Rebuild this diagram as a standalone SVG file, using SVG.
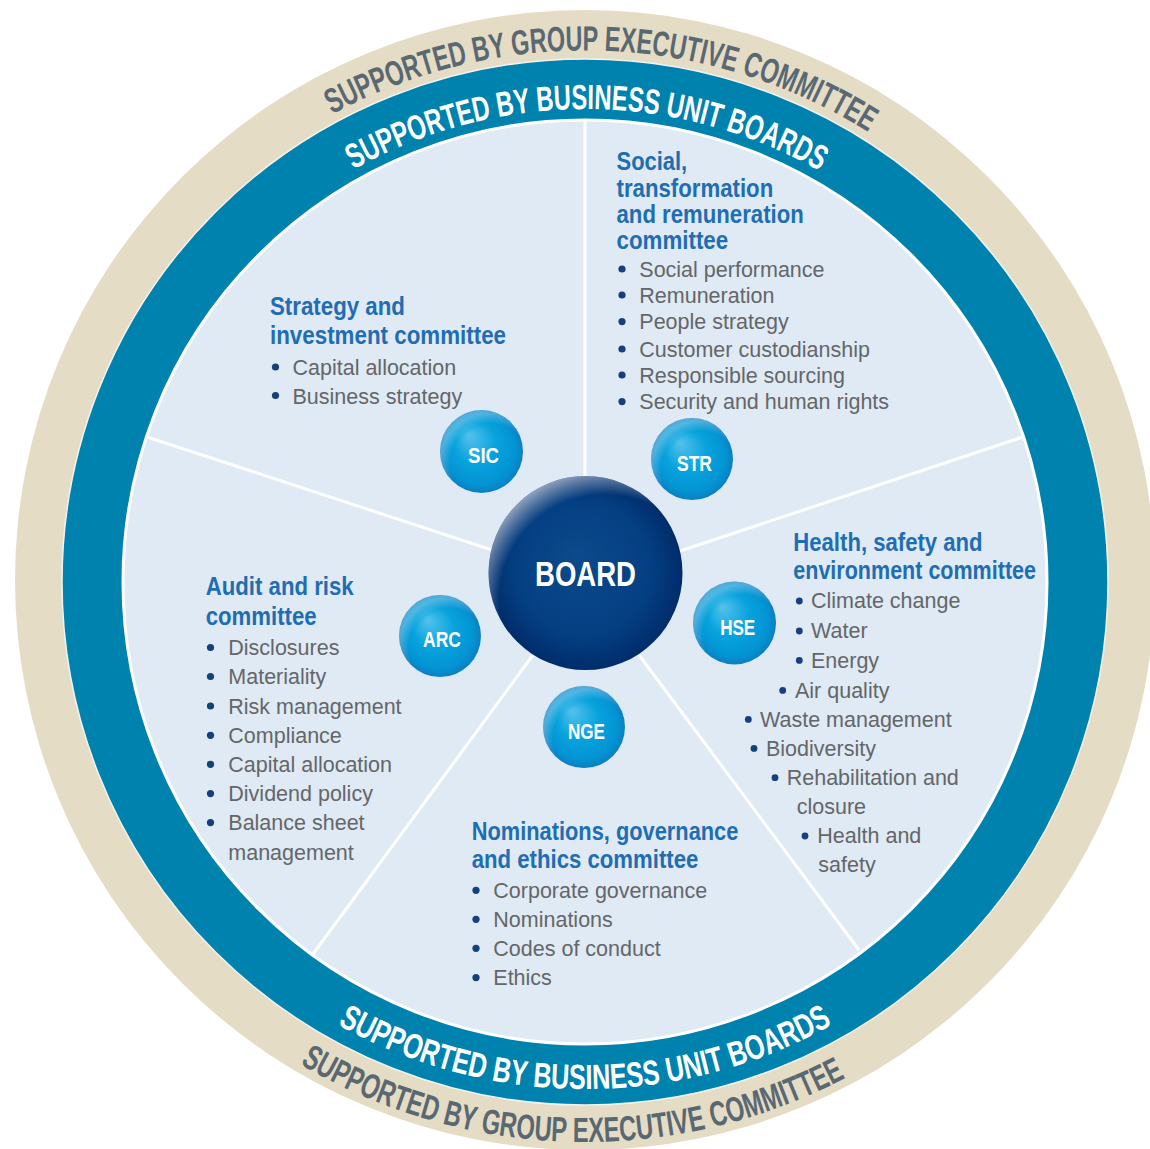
<svg xmlns="http://www.w3.org/2000/svg" width="1150" height="1149" viewBox="0 0 1150 1149">
<style>
.cond{font-family:"Liberation Sans Narrow","Liberation Sans",Arial,sans-serif;font-weight:700}
.arcout{font-size:35px;fill:#5a6872}
.arcin{font-size:35px;fill:#ffffff}
.head{font-size:26px;fill:#1f6db3}
.item{font-family:"Liberation Sans",Arial,sans-serif;font-size:21.5px;fill:#646669}
.dot{fill:#173f7b}
.lbl{font-size:22px;fill:#ffffff;text-anchor:middle}
.blbl{font-size:35px;fill:#ffffff;text-anchor:middle}
.divider{stroke:#ffffff;stroke-width:3;fill:none}
.bub{fill:url(#bubG)}
.bubhi{fill:url(#bubHi)}
</style>
<defs>
<path id="pTopOut" d="M124.3,315.5 A533,533 0 0 1 1045.7,315.5"/>
<path id="pBotOut" d="M100,862 A560,560 0 0 0 1070,862"/>
<path id="pTopIn" d="M175.4,345.5 A473,473 0 0 1 994.6,345.5"/>
<path id="pBotIn" d="M145.9,835.5 A507,507 0 0 0 1024.1,835.5"/>
<radialGradient id="bubG" cx="0.5" cy="0.5" r="0.5" fx="0.35" fy="0.3">
<stop offset="0" stop-color="#55c2ec"/>
<stop offset="0.5" stop-color="#07a3dd"/>
<stop offset="0.85" stop-color="#0394d3"/>
<stop offset="1" stop-color="#0b7fc2"/>
</radialGradient>
<radialGradient id="bubHi" cx="0.6" cy="0.64" r="0.6">
<stop offset="0.8" stop-color="#ffffff" stop-opacity="0"/>
<stop offset="1" stop-color="#ffffff" stop-opacity="0.3"/>
</radialGradient>
<radialGradient id="boardG" cx="0.5" cy="0.5" r="0.5" fx="0.45" fy="0.42">
<stop offset="0" stop-color="#0b4a8c"/>
<stop offset="0.7" stop-color="#043f82"/>
<stop offset="1" stop-color="#002c6b"/>
</radialGradient>
<radialGradient id="boardHi" cx="0.6" cy="0.64" r="0.68">
<stop offset="0.8" stop-color="#ffffff" stop-opacity="0"/>
<stop offset="1" stop-color="#ffffff" stop-opacity="0.6"/>
</radialGradient>
</defs>

<g id="rings">
<circle cx="585" cy="580" r="570" fill="#e4dcc5"/>
<circle cx="585" cy="582" r="523" fill="#0082ae" stroke="#f2f2ee" stroke-width="1.5"/>
<circle cx="585" cy="582" r="462" fill="#dfeaf4" stroke="#ffffff" stroke-width="3"/>
</g>

<g id="ring-labels" class="cond">
<text class="arcout"><textPath href="#pTopOut" startOffset="574" text-anchor="middle" textLength="562" lengthAdjust="spacingAndGlyphs">SUPPORTED BY GROUP EXECUTIVE COMMITTEE</textPath></text>
<text class="arcout"><textPath href="#pBotOut" startOffset="572.5" text-anchor="middle" textLength="570" lengthAdjust="spacingAndGlyphs">SUPPORTED BY GROUP EXECUTIVE COMMITTEE</textPath></text>
<text class="arcin"><textPath href="#pTopIn" startOffset="497" text-anchor="middle" textLength="487" lengthAdjust="spacingAndGlyphs">SUPPORTED BY BUSINESS UNIT BOARDS</textPath></text>
<text class="arcin"><textPath href="#pBotIn" startOffset="531" text-anchor="middle" textLength="517" lengthAdjust="spacingAndGlyphs">SUPPORTED BY BUSINESS UNIT BOARDS</textPath></text>
</g>

<g id="connectors">
<line class="divider" x1="585" y1="121" x2="585" y2="480"/>
<line class="divider" x1="1023" y1="437" x2="680" y2="551"/>
<line class="divider" x1="147" y1="437" x2="492" y2="550"/>
<line class="divider" x1="313" y1="954" x2="533" y2="655"/>
<line class="divider" x1="859" y1="950" x2="639" y2="655"/>
</g>

<g id="board">
<circle cx="585.5" cy="573" r="97" fill="url(#boardG)"/>
<circle cx="585.5" cy="573" r="97" fill="url(#boardHi)"/>
<text class="cond blbl" x="585.5" y="586" textLength="101" lengthAdjust="spacingAndGlyphs">BOARD</text>
</g>

<g id="sic">
<circle class="bub" cx="481.5" cy="451.5" r="41.5"/>
<circle class="bubhi" cx="481.5" cy="451.5" r="41.5"/>
<text class="cond lbl" x="483.5" y="463.3" textLength="31" lengthAdjust="spacingAndGlyphs">SIC</text>
<text class="cond head" x="270" y="315" textLength="135" lengthAdjust="spacingAndGlyphs">Strategy and</text>
<text class="cond head" x="270" y="343.5" textLength="236" lengthAdjust="spacingAndGlyphs">investment committee</text>
<circle class="dot" cx="275.5" cy="367" r="3.6"/>
<text class="item" x="292.5" y="375">Capital allocation</text>
<circle class="dot" cx="275.5" cy="395.5" r="3.6"/>
<text class="item" x="292.5" y="403.5">Business strategy</text>
</g>

<g id="str">
<circle class="bub" cx="692" cy="459" r="41"/>
<circle class="bubhi" cx="692" cy="459" r="41"/>
<text class="cond lbl" x="694.5" y="470.7" textLength="35" lengthAdjust="spacingAndGlyphs">STR</text>
<text class="cond head" x="616.5" y="170" textLength="70.7" lengthAdjust="spacingAndGlyphs">Social,</text>
<text class="cond head" x="616.5" y="196.5" textLength="156.7" lengthAdjust="spacingAndGlyphs">transformation</text>
<text class="cond head" x="616.5" y="222.7" textLength="187.3" lengthAdjust="spacingAndGlyphs">and remuneration</text>
<text class="cond head" x="616.5" y="249.3" textLength="111.7" lengthAdjust="spacingAndGlyphs">committee</text>
<circle class="dot" cx="622" cy="269" r="3.6"/>
<text class="item" x="639.3" y="276.7">Social performance</text>
<circle class="dot" cx="622" cy="295" r="3.6"/>
<text class="item" x="639.3" y="302.7">Remuneration</text>
<circle class="dot" cx="622" cy="321.6" r="3.6"/>
<text class="item" x="639.3" y="329.3">People strategy</text>
<circle class="dot" cx="622" cy="349" r="3.6"/>
<text class="item" x="639.3" y="356.7">Customer custodianship</text>
<circle class="dot" cx="622" cy="375" r="3.6"/>
<text class="item" x="639.3" y="382.7">Responsible sourcing</text>
<circle class="dot" cx="622" cy="401.6" r="3.6"/>
<text class="item" x="639.3" y="409.3">Security and human rights</text>
</g>

<g id="hse">
<circle class="bub" cx="734.5" cy="623" r="41.5"/>
<circle class="bubhi" cx="734.5" cy="623" r="41.5"/>
<text class="cond lbl" x="737.7" y="635" textLength="35" lengthAdjust="spacingAndGlyphs">HSE</text>
<text class="cond head" x="793.3" y="551" textLength="189.3" lengthAdjust="spacingAndGlyphs">Health, safety and</text>
<text class="cond head" x="793.3" y="579" textLength="242.7" lengthAdjust="spacingAndGlyphs">environment committee</text>
<circle class="dot" cx="799.3" cy="601" r="3.4"/>
<text class="item" x="811" y="608.3">Climate change</text>
<circle class="dot" cx="799.3" cy="631" r="3.4"/>
<text class="item" x="811" y="638.3">Water</text>
<circle class="dot" cx="799.3" cy="660.4" r="3.4"/>
<text class="item" x="811" y="667.7">Energy</text>
<circle class="dot" cx="782.7" cy="690.4" r="3.4"/>
<text class="item" x="795" y="697.7">Air quality</text>
<circle class="dot" cx="748.3" cy="719.4" r="3.4"/>
<text class="item" x="760" y="726.7">Waste management</text>
<circle class="dot" cx="754" cy="748.4" r="3.4"/>
<text class="item" x="766" y="755.7">Biodiversity</text>
<circle class="dot" cx="775" cy="777.7" r="3.4"/>
<text class="item" x="786.7" y="785">Rehabilitation and</text>
<text class="item" x="796.7" y="814.3">closure</text>
<circle class="dot" cx="805" cy="836" r="3.4"/>
<text class="item" x="817.3" y="843.3">Health and</text>
<text class="item" x="818.3" y="871.7">safety</text>
</g>

<g id="arc">
<circle class="bub" cx="440" cy="636" r="41"/>
<circle class="bubhi" cx="440" cy="636" r="41"/>
<text class="cond lbl" x="442" y="646.7" textLength="38" lengthAdjust="spacingAndGlyphs">ARC</text>
<text class="cond head" x="205.7" y="595.3" textLength="148" lengthAdjust="spacingAndGlyphs">Audit and risk</text>
<text class="cond head" x="205.7" y="625.3" textLength="111" lengthAdjust="spacingAndGlyphs">committee</text>
<circle class="dot" cx="210.5" cy="647.5" r="3.6"/>
<text class="item" x="228.3" y="655.3">Disclosures</text>
<circle class="dot" cx="210.5" cy="676.5" r="3.6"/>
<text class="item" x="228.3" y="684.3">Materiality</text>
<circle class="dot" cx="210.5" cy="706" r="3.6"/>
<text class="item" x="228.3" y="713.7">Risk management</text>
<circle class="dot" cx="210.5" cy="735.3" r="3.6"/>
<text class="item" x="228.3" y="743">Compliance</text>
<circle class="dot" cx="210.5" cy="764.3" r="3.6"/>
<text class="item" x="228.3" y="772">Capital allocation</text>
<circle class="dot" cx="210.5" cy="793.6" r="3.6"/>
<text class="item" x="228.3" y="801.3">Dividend policy</text>
<circle class="dot" cx="210.5" cy="822.6" r="3.6"/>
<text class="item" x="228.3" y="830.3">Balance sheet</text>
<text class="item" x="228.3" y="859.7">management</text>
</g>

<g id="nge">
<circle class="bub" cx="584" cy="727" r="41"/>
<circle class="bubhi" cx="584" cy="727" r="41"/>
<text class="cond lbl" x="586.5" y="739" textLength="37" lengthAdjust="spacingAndGlyphs">NGE</text>
<text class="cond head" x="471.7" y="840.3" textLength="266.7" lengthAdjust="spacingAndGlyphs">Nominations, governance</text>
<text class="cond head" x="471.7" y="868" textLength="226.7" lengthAdjust="spacingAndGlyphs">and ethics committee</text>
<circle class="dot" cx="476" cy="890.3" r="3.6"/>
<text class="item" x="493.3" y="898">Corporate governance</text>
<circle class="dot" cx="476" cy="919.3" r="3.6"/>
<text class="item" x="493.3" y="927">Nominations</text>
<circle class="dot" cx="476" cy="948.3" r="3.6"/>
<text class="item" x="493.3" y="956">Codes of conduct</text>
<circle class="dot" cx="476" cy="977.6" r="3.6"/>
<text class="item" x="493.3" y="985.3">Ethics</text>
</g>
</svg>
